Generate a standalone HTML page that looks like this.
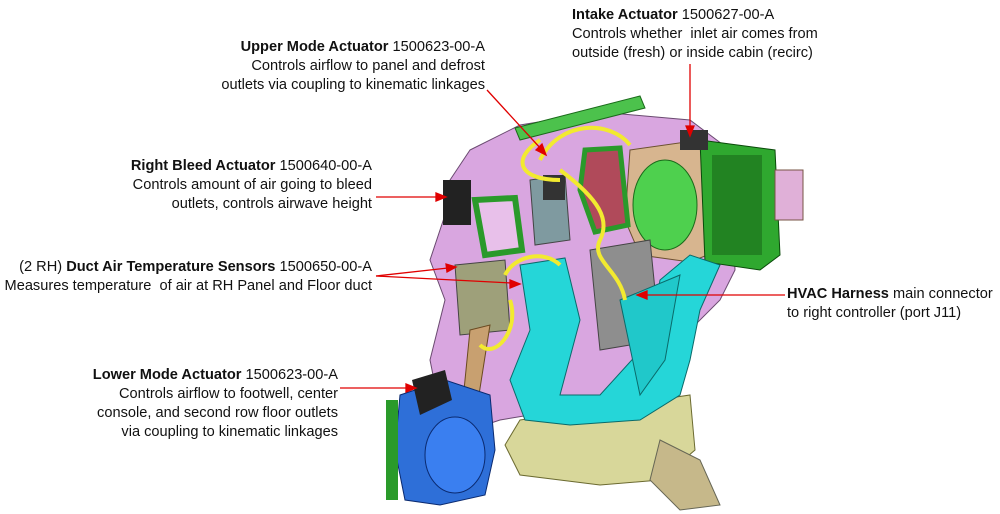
<!DOCTYPE html>
<html><head><meta charset="utf-8"><style>
body{margin:0;width:1000px;height:514px;background:#fff;position:relative;overflow:hidden;font-family:"Liberation Sans",sans-serif;font-size:14.6px;color:#111}
.t{position:absolute;line-height:19px;white-space:nowrap}
.r{text-align:right}
b{font-weight:bold}
svg{position:absolute;left:0;top:0}
</style></head><body>
<svg width="1000" height="514" viewBox="0 0 1000 514">
<polygon points="470,150 520,125 600,112 690,120 730,150 735,270 720,300 690,330 660,380 640,400 560,410 500,420 470,430 440,410 430,360 445,300 430,260 445,215 450,180" fill="#d9a6e0" stroke="#6a4a70" stroke-width="1"/>
<polygon points="520,420 690,395 695,450 660,480 600,485 520,475 505,445" fill="#d8d79a" stroke="#6b6a30"/>
<polygon points="660,440 700,460 720,505 680,510 650,480" fill="#c6b88a" stroke="#665"/>
<polygon points="515,128 640,96 645,108 520,140" fill="#4cc24c" stroke="#1a6a1a"/>
<polygon points="630,150 700,140 720,170 720,250 690,262 640,255 625,220" fill="#d7b58f" stroke="#6b5030"/>
<ellipse cx="665" cy="205" rx="32" ry="45" fill="#4ed04e" stroke="#1a6a1a"/>
<polygon points="700,140 775,150 780,255 760,270 705,262" fill="#2fa82f" stroke="#0a4a0a"/>
<rect x="712" y="155" width="50" height="100" fill="#1a6a1a" opacity=".6"/>
<rect x="775" y="170" width="28" height="50" fill="#e0b0d8" stroke="#754"/>
<polygon points="585,150 620,148 628,225 595,232 580,190" fill="#b04a5a" stroke="#2a9a2a" stroke-width="5"/>
<polygon points="475,200 515,198 522,250 485,255" fill="#e8c0ea" stroke="#2a9a2a" stroke-width="6"/>
<polygon points="590,250 650,240 660,340 600,350" fill="#8e8e8e" stroke="#444"/>
<polygon points="455,265 505,260 510,330 460,335" fill="#9ea07a" stroke="#444"/>
<polygon points="530,180 565,175 570,240 535,245" fill="#7f9aa0" stroke="#444"/>
<polygon points="520,265 565,258 580,320 560,395 600,395 650,340 660,280 690,255 720,265 700,310 690,360 680,395 640,420 570,425 525,420 510,380 530,330" fill="#25d6d8" stroke="#0a6a6a"/>
<polygon points="620,300 680,275 665,360 640,395" fill="#20c8ca" stroke="#0a6a6a"/>
<polygon points="470,330 490,325 475,420 460,470 448,465 462,410" fill="#c8a070" stroke="#6a4a20"/>
<polygon points="400,395 445,380 490,395 495,450 485,495 440,505 405,500 395,450" fill="#2e6fd8" stroke="#0a2a70"/>
<ellipse cx="455" cy="455" rx="30" ry="38" fill="#3a7ff0" stroke="#0a2a70"/>
<rect x="386" y="400" width="12" height="100" fill="#2a9a2a"/>
<polygon points="412,380 445,370 452,400 420,415" fill="#222"/>
<rect x="443" y="180" width="28" height="45" fill="#222"/>
<rect x="543" y="175" width="22" height="25" fill="#333"/>
<rect x="680" y="130" width="28" height="20" fill="#333"/>
<path d="M540,160 C560,120 610,120 630,145 M560,170 C600,200 610,220 600,240 C590,260 620,270 625,300 M505,275 C515,255 545,250 560,265 M480,345 C495,360 520,330 510,300 M560,180 C520,180 510,160 540,140" fill="none" stroke="#f2ea30" stroke-width="4"/>
<g stroke="#e00000" stroke-width="1.3" fill="#e00000">
<line x1="487" y1="90" x2="542" y2="150"/><polygon points="546,155 536,150 542,144"/>
<line x1="690" y1="64" x2="690" y2="128"/><polygon points="690,136 686,126 694,126"/>
<line x1="376" y1="197" x2="438" y2="197"/><polygon points="446,197 436,193 436,201"/>
<line x1="376" y1="276" x2="448" y2="268"/><polygon points="456,267 446,264 447,272"/>
<line x1="376" y1="276" x2="512" y2="283"/><polygon points="520,284 510,280 510,288"/>
<line x1="785" y1="295" x2="645" y2="295"/><polygon points="637,295 647,291 647,299"/>
<line x1="340" y1="388" x2="408" y2="388"/><polygon points="416,388 406,384 406,392"/>
</g>
</svg>
<div class="t r" style="right:515px;top:38px"><b>Upper Mode Actuator</b> 1500623-00-A<br>Controls airflow to panel and defrost<br>outlets via coupling to kinematic linkages</div>
<div class="t" style="left:572px;top:6px"><b>Intake Actuator</b> 1500627-00-A<br>Controls whether&nbsp; inlet air comes from<br>outside (fresh) or inside cabin (recirc)</div>
<div class="t r" style="right:628px;top:157px"><b>Right Bleed Actuator</b> 1500640-00-A<br>Controls amount of air going to bleed<br>outlets, controls airwave height</div>
<div class="t r" style="right:628px;top:258px">(2 RH) <b>Duct Air Temperature Sensors</b> 1500650-00-A<br>Measures temperature&nbsp; of air at RH Panel and Floor duct</div>
<div class="t" style="left:787px;top:285px"><b>HVAC Harness</b> main connector<br>to right controller (port J11)</div>
<div class="t r" style="right:662px;top:366px"><b>Lower Mode Actuator</b> 1500623-00-A<br>Controls airflow to footwell, center<br>console, and second row floor outlets<br>via coupling to kinematic linkages</div>
</body></html>
